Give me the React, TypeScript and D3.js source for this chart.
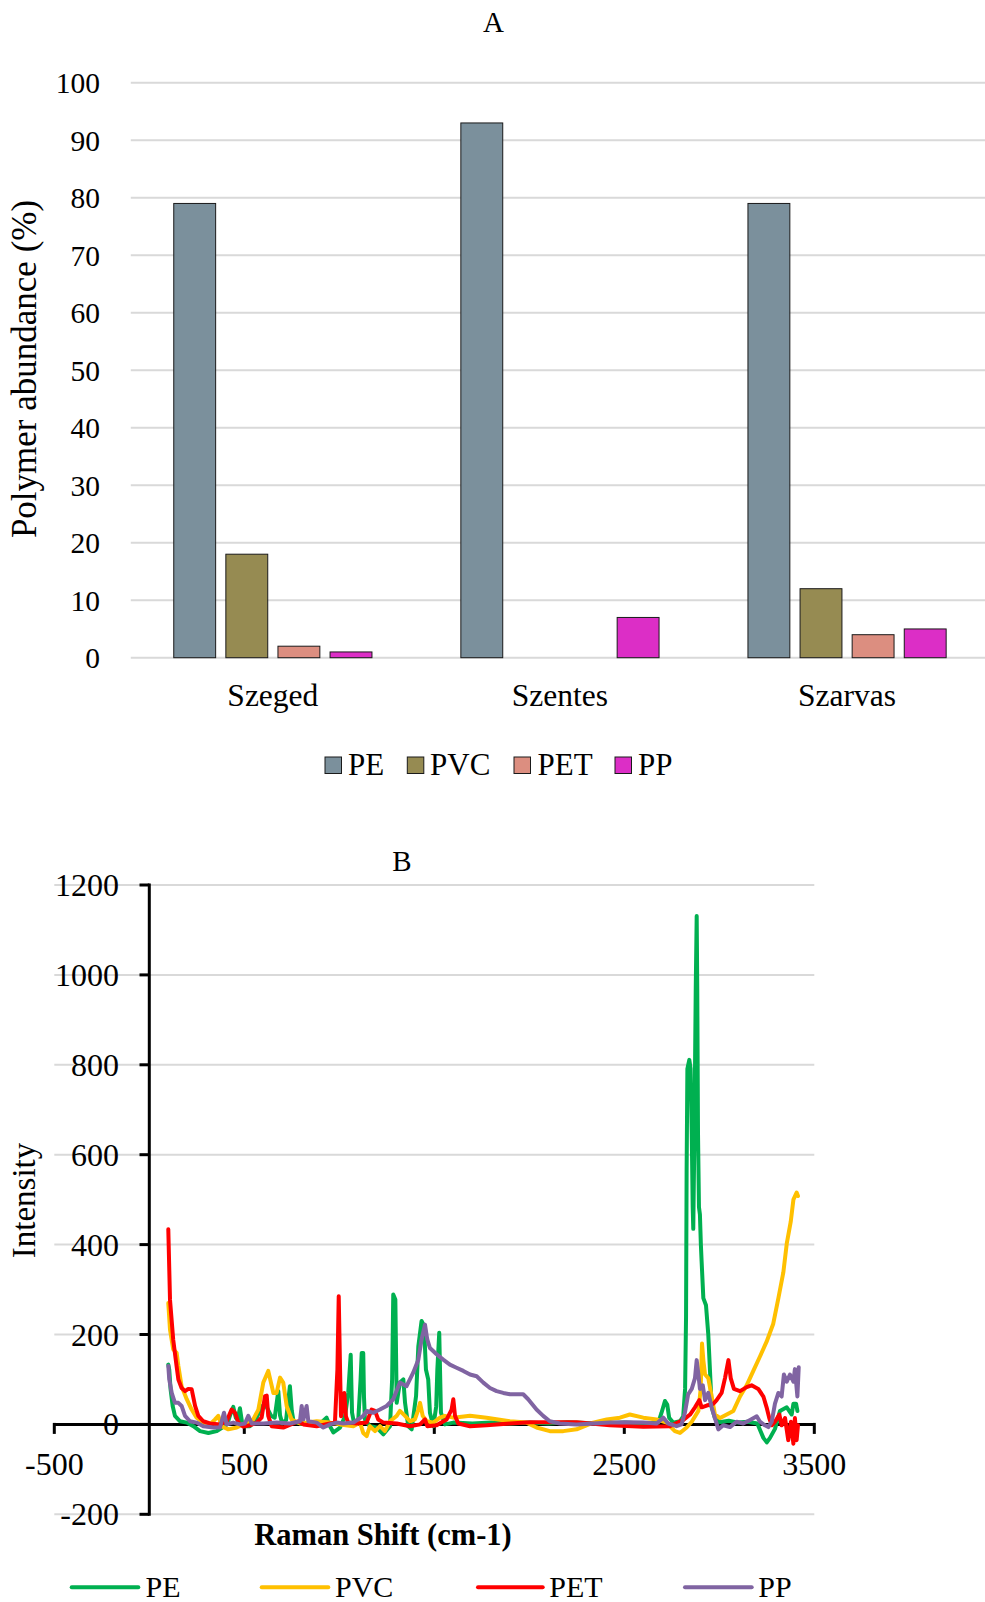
import React from "react";
import * as d3 from "d3";

// ---------- Chart A data ----------
const CITIES = ["Szeged", "Szentes", "Szarvas"];
const POLYMERS = ["PE", "PVC", "PET", "PP"];
const PE_ABUND = [79, 93, 79];
const PVC_ABUND = [18, 0, 12];
const PET_ABUND = [2, 0, 4];
const PP_ABUND = [1, 7, 5];
const A_TICKS = [0, 10, 20, 30, 40, 50, 60, 70, 80, 90, 100];
const BAR_COLORS = ["#7B909C", "#968B52", "#DC8E80", "#DC2EC6"];

// ---------- Chart B data (Raman shift cm-1, intensity) ----------
const PE_SPECTRUM: [number, number][] = [
  [100,133],[105,122],[112,78],[123,41],[135,19],[162,7],[197,4],[232,-4],[267,-15],[311,-19],[355,-15],[380,-8],[410,0],[425,20],[442,39],[455,15],[465,10],[477,36],[488,5],[510,-4],[530,-4],[560,10],[591,40],[610,45],[640,20],[660,15],[679,74],[688,20],[700,2],[720,10],[740,85],[750,30],[760,5],[800,2],[850,4],[900,2],[933,15],[951,-4],[969,-18],[1004,-7],[1030,18],[1047,70],[1060,155],[1067,26],[1077,4],[1100,11],[1112,100],[1118,159],[1126,159],[1130,60],[1135,11],[1161,-4],[1197,-7],[1232,-22],[1267,-4],[1278,100],[1284,289],[1295,278],[1302,48],[1319,93],[1337,100],[1346,48],[1363,-4],[1381,-11],[1404,63],[1416,174],[1433,230],[1446,219],[1456,122],[1468,100],[1477,26],[1495,-4],[1510,40],[1516,122],[1526,204],[1535,26],[1556,0],[1600,4],[1700,2],[1800,4],[1900,2],[2000,4],[2100,2],[2200,5],[2300,3],[2400,2],[2500,4],[2600,2],[2679,4],[2696,26],[2714,52],[2726,44],[2736,15],[2757,4],[2793,7],[2810,18],[2820,79],[2825,240],[2828,564],[2832,791],[2842,811],[2849,791],[2855,645],[2860,483],[2863,435],[2869,645],[2876,969],[2881,1131],[2884,969],[2888,645],[2893,483],[2898,467],[2903,400],[2907,362],[2916,281],[2930,265],[2942,200],[2951,119],[2960,38],[2977,14],[3000,5],[3050,8],[3100,4],[3150,6],[3200,2],[3232,-30],[3250,-40],[3267,-30],[3293,-10],[3319,30],[3355,38],[3381,22],[3390,46],[3404,46],[3411,30]
];
const PVC_SPECTRUM: [number, number][] = [
  [100,270],[109,211],[126,167],[144,159],[153,130],[170,85],[197,56],[223,33],[249,15],[284,4],[319,0],[346,11],[363,19],[381,-4],[416,-11],[460,-7],[512,4],[547,11],[574,33],[600,93],[626,119],[653,70],[670,70],[688,104],[705,93],[723,41],[749,11],[793,2],[881,7],[951,4],[1004,0],[1074,-4],[1109,4],[1126,-19],[1144,-26],[1161,-4],[1188,-15],[1214,-4],[1240,-15],[1267,7],[1302,19],[1319,30],[1346,19],[1372,7],[1398,11],[1416,33],[1425,48],[1439,19],[1460,7],[1495,4],[1530,15],[1556,19],[1600,15],[1688,19],[1775,15],[1898,7],[1986,4],[2038,-7],[2108,-15],[2179,-15],[2249,-11],[2336,4],[2407,11],[2477,15],[2529,22],[2600,15],[2670,11],[2722,4],[2766,-15],[2793,-19],[2828,-7],[2855,6],[2890,30],[2902,79],[2909,180],[2916,143],[2925,111],[2942,103],[2960,62],[2977,22],[3004,14],[3039,22],[3074,30],[3109,62],[3144,87],[3179,119],[3214,151],[3249,184],[3284,224],[3311,281],[3337,338],[3355,402],[3376,451],[3390,500],[3407,516],[3414,508]
];
const PET_SPECTRUM: [number, number][] = [
  [100,434],[109,277],[126,188],[144,128],[153,100],[170,81],[188,74],[205,79],[223,78],[241,41],[258,19],[284,7],[319,2],[372,0],[407,7],[433,33],[451,26],[469,4],[495,-5],[530,-2],[565,4],[591,15],[609,63],[618,64],[626,19],[644,-4],[705,-7],[758,2],[784,7],[811,0],[881,-4],[951,2],[977,4],[990,122],[997,285],[1004,122],[1009,18],[1018,41],[1026,70],[1035,18],[1047,4],[1091,2],[1144,4],[1170,33],[1188,30],[1205,11],[1232,4],[1302,2],[1372,-4],[1425,0],[1451,11],[1463,-4],[1512,-2],[1565,11],[1591,33],[1600,56],[1609,19],[1626,2],[1688,-4],[1775,-2],[1898,2],[2003,5],[2108,5],[2249,5],[2424,-2],[2600,-5],[2740,-4],[2811,10],[2846,22],[2872,38],[2895,54],[2907,38],[2934,42],[2969,46],[2986,54],[3012,70],[3030,103],[3048,143],[3060,103],[3077,79],[3109,74],[3144,83],[3170,87],[3205,79],[3232,62],[3249,38],[3263,14],[3276,-2],[3293,6],[3316,22],[3328,-2],[3346,14],[3363,-35],[3377,6],[3390,-43],[3398,14],[3407,-35],[3414,-2]
];
const PP_SPECTRUM: [number, number][] = [
  [100,130],[105,100],[118,70],[135,48],[153,48],[170,41],[188,19],[214,7],[249,4],[284,-4],[337,-7],[372,-7],[393,26],[407,0],[442,4],[477,0],[503,2],[521,19],[539,2],[600,2],[670,4],[740,2],[793,7],[802,41],[811,11],[828,41],[837,7],[881,4],[916,-7],[951,0],[986,4],[1021,2],[1074,4],[1126,19],[1144,30],[1179,26],[1214,33],[1249,41],[1284,56],[1319,93],[1354,85],[1389,115],[1416,144],[1433,189],[1451,222],[1463,189],[1477,170],[1512,156],[1547,144],[1582,133],[1617,126],[1653,119],[1688,111],[1723,107],[1758,93],[1793,81],[1828,74],[1863,70],[1898,67],[1968,67],[1994,56],[2038,33],[2073,19],[2108,7],[2161,2],[2249,0],[2336,2],[2424,4],[2512,5],[2600,4],[2670,2],[2705,15],[2731,2],[2775,-4],[2801,0],[2819,26],[2836,67],[2855,79],[2872,103],[2881,143],[2890,111],[2898,79],[2913,87],[2925,54],[2942,70],[2960,38],[2977,14],[2995,-11],[3021,-2],[3056,-6],[3091,6],[3126,2],[3162,10],[3197,18],[3214,6],[3240,-2],[3258,-6],[3276,6],[3293,46],[3311,70],[3328,62],[3340,111],[3355,95],[3372,111],[3390,95],[3398,123],[3411,62],[3418,127]
];
const SPECTRA_NAMES = ["PE", "PVC", "PET", "PP"];
const SPECTRA_COLORS = ["#00B050", "#FFC000", "#FF0000", "#8064A2"];
const B_Y_TICKS = [-200, 0, 200, 400, 600, 800, 1000, 1200];
const B_X_TICKS = [-500, 500, 1500, 2500, 3500];

const FONT = "'Liberation Serif', 'Times New Roman', serif";

export default function App() {
  // ----- Chart A scales -----
  const abund = [PE_ABUND, PVC_ABUND, PET_ABUND, PP_ABUND];
  const x0 = d3.scaleBand<string>().domain(CITIES).range([129.3, 990.6]);
  const x1 = d3.scaleBand<string>().domain(POLYMERS).range([0, 198.2]).paddingInner(0.196);
  const groupOffset = (x0.bandwidth() - 198.2) / 2;
  const yA = d3.scaleLinear().domain([0, 100]).range([657.7, 82.7]);

  // ----- Chart B scales -----
  const xB = d3.scaleLinear().domain([-500, 3500]).range([54.3, 814.3]);
  const yB = d3.scaleLinear().domain([-200, 1200]).range([1514.3, 885]);
  const line = d3.line<[number, number]>().x((d) => xB(d[0])).y((d) => yB(d[1]));
  const spectra = [PE_SPECTRUM, PVC_SPECTRUM, PET_SPECTRUM, PP_SPECTRUM];

  const legendA = [
    { sq: 325, tx: 348 },
    { sq: 407.3, tx: 430 },
    { sq: 514, tx: 537.5 },
    { sq: 615, tx: 638 },
  ];
  const legendB = [
    { x1: 71.7, x2: 138.3, tx: 145.5 },
    { x1: 261.7, x2: 328.3, tx: 335 },
    { x1: 478, x2: 542.7, tx: 549.3 },
    { x1: 685, x2: 751.7, tx: 758.3 },
  ];

  return (
    <svg
      width={985}
      height={1602}
      style={{ position: "absolute", left: 0, top: 0, background: "#fff" }}
      fontFamily={FONT}
    >
      <rect width={985} height={1602} fill="#fff" />
      {/* ================= Chart A ================= */}
      <text x={493.5} y={32} textAnchor="middle" fontSize={29}>A</text>
      {A_TICKS.map((t) => (
        <g key={"ga" + t}>
          <line x1={130.8} x2={990} y1={yA(t)} y2={yA(t)} stroke="#D9D9D9" strokeWidth={2} />
          <text x={100} y={yA(t) + 10.5} textAnchor="end" fontSize={29.5}>{t}</text>
        </g>
      ))}
      {CITIES.map((c, ci) => (
        <g key={c}>
          {POLYMERS.map((p, pi) =>
            abund[pi][ci] > 0 ? (
              <rect
                key={p}
                x={(x0(c) as number) + groupOffset + (x1(p) as number)}
                y={yA(abund[pi][ci])}
                width={x1.bandwidth()}
                height={yA(0) - yA(abund[pi][ci])}
                fill={BAR_COLORS[pi]}
                stroke="#1a1a1a"
                strokeWidth={1}
              />
            ) : null
          )}
          <text
            x={(x0(c) as number) + x0.bandwidth() / 2}
            y={706}
            textAnchor="middle"
            fontSize={31.5}
          >
            {c}
          </text>
        </g>
      ))}
      <text transform="translate(36,369) rotate(-90)" textAnchor="middle" fontSize={35}>
        Polymer abundance (%)
      </text>
      {POLYMERS.map((p, i) => (
        <g key={"la" + p}>
          <rect x={legendA[i].sq} y={757} width={16.5} height={16.5} fill={BAR_COLORS[i]} stroke="#1a1a1a" strokeWidth={1} />
          <text x={legendA[i].tx} y={774.5} fontSize={31}>{p}</text>
        </g>
      ))}

      {/* ================= Chart B ================= */}
      <text x={402} y={870.5} textAnchor="middle" fontSize={29}>B</text>
      {B_Y_TICKS.map((t) => (
        <g key={"gb" + t}>
          <line x1={54.3} x2={814.3} y1={yB(t)} y2={yB(t)} stroke="#D9D9D9" strokeWidth={2} />
          <text x={119} y={yB(t) + 11} textAnchor="end" fontSize={32}>{t}</text>
          <line x1={139.5} x2={xB(0)} y1={yB(t)} y2={yB(t)} stroke="#000" strokeWidth={3} />
        </g>
      ))}
      {/* axes */}
      <line x1={xB(0)} x2={xB(0)} y1={yB(1200) - 1.5} y2={yB(-200) + 1.5} stroke="#000" strokeWidth={3} />
      <line x1={xB(-500)} x2={xB(3500)} y1={yB(0)} y2={yB(0)} stroke="#000" strokeWidth={3} />
      {B_X_TICKS.map((t) => (
        <g key={"xb" + t}>
          <line x1={xB(t)} x2={xB(t)} y1={yB(0) - 1.5} y2={yB(0) + 9.5} stroke="#000" strokeWidth={3} />
          <text x={xB(t)} y={1475} textAnchor="middle" fontSize={32}>{t}</text>
        </g>
      ))}
      {spectra.map((s, i) => (
        <path
          key={"sp" + i}
          d={line(s) as string}
          fill="none"
          stroke={SPECTRA_COLORS[i]}
          strokeWidth={4}
          strokeLinejoin="round"
          strokeLinecap="round"
        />
      ))}
      <text transform="translate(35,1200.5) rotate(-90)" textAnchor="middle" fontSize={33}>
        Intensity
      </text>
      <text x={383} y={1545} textAnchor="middle" fontSize={30.5} fontWeight="bold">
        Raman Shift (cm-1)
      </text>
      {SPECTRA_NAMES.map((n, i) => (
        <g key={"lb" + n}>
          <line x1={legendB[i].x1} x2={legendB[i].x2} y1={1587.3} y2={1587.3} stroke={SPECTRA_COLORS[i]} strokeWidth={4} strokeLinecap="round" />
          <text x={legendB[i].tx} y={1597} fontSize={30}>{n}</text>
        </g>
      ))}
    </svg>
  );
}
